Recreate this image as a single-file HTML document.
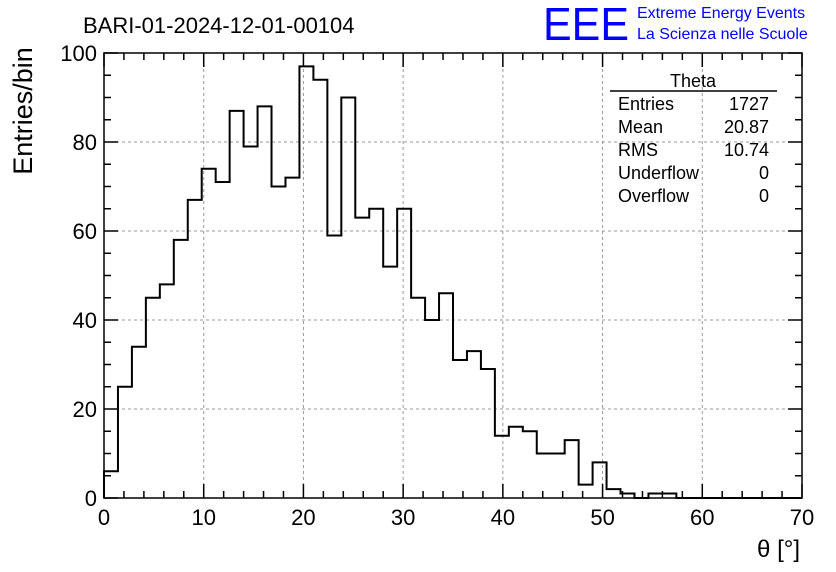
<!DOCTYPE html>
<html><head><meta charset="utf-8"><style>
body{margin:0;background:#fff;}
svg{display:block;font-family:"Liberation Sans",sans-serif;}
</style></head><body>
<svg id="c" width="836" height="572">
<text x="83" y="33" font-size="22">BARI-01-2024-12-01-00104</text>
<text x="543" y="40" font-size="46" fill="#0000ff" textLength="86" lengthAdjust="spacingAndGlyphs">EEE</text>
<text x="637" y="18" font-size="16" fill="#0000ff">Extreme Energy Events</text>
<text x="637" y="39" font-size="16" fill="#0000ff">La Scienza nelle Scuole</text>
<text transform="translate(32,111) rotate(-90)" text-anchor="middle" font-size="27">Entries/bin</text>
<text x="800" y="557" text-anchor="end" font-size="24">θ [°]</text>
<g id="grid"></g><g id="axes"></g><path id="hist" fill="none" stroke="#000" stroke-width="2"/>
<g font-size="18">
<text x="693" y="87" text-anchor="middle" font-size="18">Theta</text>
<line x1="610" y1="91" x2="777" y2="91" stroke="#000" stroke-width="1.5"/>
<text x="618" y="110">Entries</text><text x="769" y="110" text-anchor="end">1727</text>
<text x="618" y="133">Mean</text><text x="769" y="133" text-anchor="end">20.87</text>
<text x="618" y="156">RMS</text><text x="769" y="156" text-anchor="end">10.74</text>
<text x="618" y="179">Underflow</text><text x="769" y="179" text-anchor="end">0</text>
<text x="618" y="202">Overflow</text><text x="769" y="202" text-anchor="end">0</text>
</g>
</svg>
<script>
const counts=[6,25,34,45,48,58,67,74,71,87,79,88,70,72,97,94,59,90,63,65,52,65,45,40,46,31,33,29,14,16,15,10,10,13,3,8,2,1,0,1,1,0,0,0,0,0,0,0,0,0];
const binWidth=1.4;
const xTicks=[0,10,20,30,40,50,60,70];
const yTicks=[0,20,40,60,80,100];
const X0=104,X1=802,Y0=498,Y1=53;
const sx=v=>X0+(v/70)*(X1-X0), sy=v=>Y0-(v/100)*(Y0-Y1);
const NS="http://www.w3.org/2000/svg";
const svg=document.getElementById('c'),grid=document.getElementById('grid'),axes=document.getElementById('axes');
function mk(tag,attrs,parent){const e=document.createElementNS(NS,tag);for(const k in attrs)e.setAttribute(k,attrs[k]);parent.appendChild(e);return e;}
xTicks.forEach(t=>{if(t>0&&t<70){const l=mk('line',{x1:sx(t),x2:sx(t),y1:Y0,y2:Y1,stroke:'#999','stroke-dasharray':'3,3'},grid);}
 const tx=mk('text',{x:sx(t),y:525,'text-anchor':'middle','font-size':22},axes);tx.textContent=t;});
yTicks.forEach(t=>{if(t>0&&t<100){const l=mk('line',{x1:X0,x2:X1,y1:sy(t),y2:sy(t),stroke:'#999','stroke-dasharray':'3,3'},grid);}
 const tx=mk('text',{x:97,y:sy(t)+8,'text-anchor':'end','font-size':22},axes);tx.textContent=t;});
const fr=mk('rect',{x:X0,y:Y1,width:X1-X0,height:Y0-Y1,fill:'none',stroke:'#000','stroke-width':1.5},axes);

let d='';
for(let v=0;v<=70;v+=2){const L=v%10===0?14:7;d+=`M${sx(v)},${Y0}v${-L}M${sx(v)},${Y1}v${L}`;}
for(let v=0;v<=100;v+=5){const L=v%20===0?14:7;d+=`M${X0},${sy(v)}h${L}M${X1},${sy(v)}h${-L}`;}
const tk=mk('path',{d:d,stroke:'#000','stroke-width':1.5,fill:'none'},axes);

let p=`M${sx(0)},${sy(0)}`;
counts.forEach((c,i)=>{p+=`L${sx(i*binWidth)},${sy(c)}L${sx((i+1)*binWidth)},${sy(c)}`;});
document.getElementById('hist').setAttribute('d',p);
</script>
</body></html>
